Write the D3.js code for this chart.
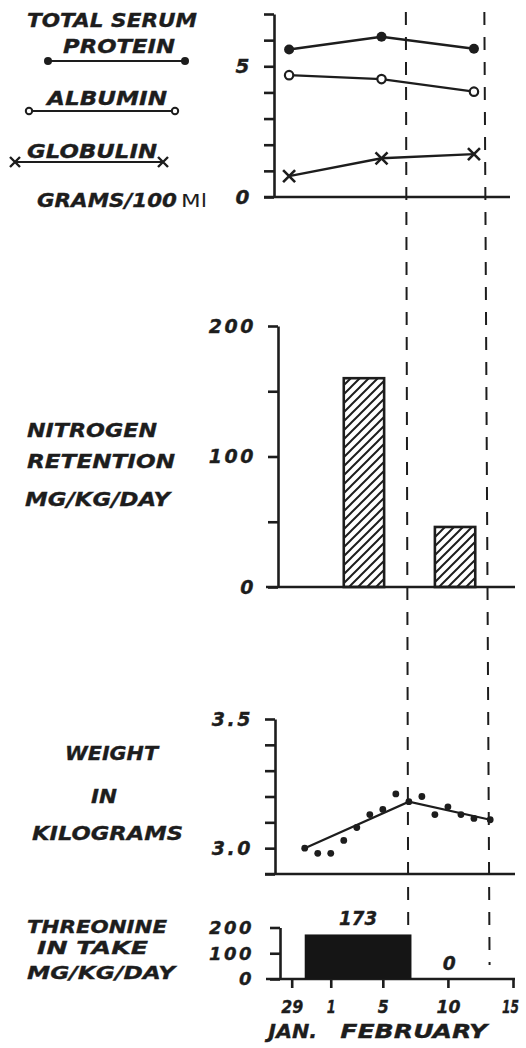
<!DOCTYPE html>
<html>
<head>
<meta charset="utf-8">
<script src="https://cdn.jsdelivr.net/npm/d3@7"></script>
<style>
  body { margin: 0; background: #fff; }
  text { font-family: "DejaVu Sans", sans-serif; font-weight: bold; font-style: italic; fill: #1d1d1d; stroke: #1d1d1d; stroke-width: 0.35; }
</style>
</head>
<body>
<svg id="chart" width="526" height="1048"></svg>
<script>
// days counted from Feb 1 (Jan 29 = -3)
let serumDays = [-3.2, 3.9, 11];
let totalProtein = [5.64, 6.13, 5.67];
let albumin = [4.66, 4.51, 4.03];
let globulin = [0.8, 1.48, 1.64];

let nitrogenBars = [
  {from: 1, to: 4.1, value: 160},
  {from: 8, to: 11.1, value: 46}
];

let weightDays = [-2, -1, 0, 1, 2, 3, 4, 5, 6, 7, 8, 9, 10, 11, 12.25];
let weights = [3.00, 2.98, 2.98, 3.03, 3.08, 3.13, 3.15, 3.21, 3.18, 3.20, 3.13, 3.16, 3.13, 3.115, 3.11];
let trendDays = [-2, 6, 12.25];
let trendWeights = [3.0, 3.18, 3.11];

let intake = [
  {from: -2, to: 6.2, value: 173},
  {from: 6.2, to: 12, value: 0}
];

let dayTicks = [-3, 0, 4, 9, 14];
let dayLabels = ["29", "1", "5", "10", "15"];
let months = [{name: "JAN.", day: -3}, {name: "FEBRUARY", day: 6.3}];

// dashed period markers, slight lean: [day at top, day at bottom]
let periodLines = [[5.77, 5.95], [11.8, 12.2]];

let ink = "#1d1d1d";
let svg = d3.select("#chart");

let x = d3.scaleLinear().domain([-3, 14]).range([291.7, 513]);

let yProt = d3.scaleLinear().domain([0, 7]).range([197, 14]);
let yNit = d3.scaleLinear().domain([0, 200]).range([587, 326]);
let yWt = d3.scaleLinear().domain([2.9, 3.5]).range([874, 719]);
let yThr = d3.scaleLinear().domain([0, 200]).range([979, 927.5]);

// drawn widths of the lettering under the time axis
let dayLabelW = [22, 9, 11, 24, 17];
let monthW = [49, 147];

let defs = svg.append("defs");
defs.append("pattern")
    .attr("id", "hatch")
    .attr("patternUnits", "userSpaceOnUse")
    .attr("width", 9).attr("height", 9)
  .append("path")
    .attr("d", "M-2,11 L11,-2 M-2,2 L2,-2 M7,11 L11,7")
    .attr("stroke", ink)
    .attr("stroke-width", 2);

function label(str, x0, w, y, size) {
    svg.append("text")
        .attr("x", x0).attr("y", y)
        .attr("font-size", size || 20)
        .attr("textLength", w)
        .attr("lengthAdjust", "spacingAndGlyphs")
        .text(str);
}

function yAxis(scale, ax, values, labeled, fmt, size, pad) {
    let g = svg.append("g")
        .attr("transform", "translate(" + ax + ",0)")
        .call(d3.axisLeft(scale)
            .tickValues(values)
            .tickSize(10)
            .tickSizeOuter(0)
            .tickPadding(pad)
            .tickFormat(d => labeled.indexOf(d) >= 0 ? fmt(d) : ""));
    g.select(".domain").attr("stroke", ink).attr("stroke-width", 2.6);
    g.selectAll(".tick line").attr("stroke", ink).attr("stroke-width", 2.6);
    g.selectAll(".tick text")
        .attr("font-size", size)
        .attr("letter-spacing", 2.5)
        .attr("fill", ink)
        .style("font-family", '"DejaVu Sans", sans-serif');
    return g;
}

function baseline(y, x1, x2) {
    svg.append("line")
        .attr("x1", x1).attr("x2", x2)
        .attr("y1", y).attr("y2", y)
        .attr("stroke", ink).attr("stroke-width", 2.6);
}

/* ---------- serum protein ---------- */
function addProtein() {
    yAxis(yProt, 274, [0, 1, 2, 3, 4, 5, 6, 7], [0, 5], d3.format("d"), 20, 12);
    baseline(yProt(0), 264, 510);

    let line = d3.line()
        .x((d, i) => x(serumDays[i]))
        .y(d => yProt(d));

    [totalProtein, albumin, globulin].forEach(s => {
        svg.append("path").datum(s)
            .attr("d", line)
            .attr("fill", "none").attr("stroke", ink).attr("stroke-width", 2.4);
    });

    svg.selectAll("circle.tp").data(totalProtein).enter()
        .append("circle").attr("class", "tp")
        .attr("cx", (d, i) => x(serumDays[i])).attr("cy", d => yProt(d))
        .attr("r", 5).attr("fill", ink);

    svg.selectAll("circle.alb").data(albumin).enter()
        .append("circle").attr("class", "alb")
        .attr("cx", (d, i) => x(serumDays[i])).attr("cy", d => yProt(d))
        .attr("r", 4.2).attr("fill", "#fff").attr("stroke", ink).attr("stroke-width", 2.2);

    svg.selectAll("path.glob").data(globulin).enter()
        .append("path").attr("class", "glob")
        .attr("transform", (d, i) => "translate(" + x(serumDays[i]) + "," + yProt(d) + ")")
        .attr("d", "M-6,-6 L6,6 M-6,6 L6,-6")
        .attr("stroke", ink).attr("stroke-width", 2.6);

    // legend
    label("TOTAL SERUM", 27, 170, 27);
    label("PROTEIN", 63, 112, 53);
    svg.append("line").attr("x1", 48).attr("x2", 185).attr("y1", 61).attr("y2", 61)
        .attr("stroke", ink).attr("stroke-width", 2.2);
    [48, 185].forEach(cx => svg.append("circle").attr("cx", cx).attr("cy", 61).attr("r", 4).attr("fill", ink));

    label("ALBUMIN", 47, 120, 105);
    svg.append("line").attr("x1", 29).attr("x2", 175).attr("y1", 111).attr("y2", 111)
        .attr("stroke", ink).attr("stroke-width", 2.2);
    [29, 175].forEach(cx => svg.append("circle").attr("cx", cx).attr("cy", 111).attr("r", 3.2)
        .attr("fill", "#fff").attr("stroke", ink).attr("stroke-width", 2));

    label("GLOBULIN", 27, 130, 158);
    svg.append("line").attr("x1", 15).attr("x2", 163).attr("y1", 162).attr("y2", 162)
        .attr("stroke", ink).attr("stroke-width", 2.2);
    [15, 163].forEach(cx => svg.append("path")
        .attr("transform", "translate(" + cx + ",162)")
        .attr("d", "M-5,-5 L5,5 M-5,5 L5,-5")
        .attr("stroke", ink).attr("stroke-width", 2.4));

    let units = svg.append("text").attr("x", 37).attr("y", 207).attr("font-size", 20);
    units.append("tspan").attr("textLength", 140).attr("lengthAdjust", "spacingAndGlyphs").text("GRAMS/100");
    units.append("tspan").attr("x", 181).attr("font-weight", "normal").attr("font-style", "normal")
        .attr("stroke-width", 0)
        .attr("font-size", 17).attr("textLength", 26).attr("lengthAdjust", "spacingAndGlyphs").text("Ml");
}

/* ---------- nitrogen retention ---------- */
function addNitrogen() {
    yAxis(yNit, 278, [0, 50, 100, 150, 200], [0, 100, 200], d3.format("d"), 19, 12);
    baseline(yNit(0), 266, 515);

    svg.selectAll("rect.nit").data(nitrogenBars).enter()
        .append("rect").attr("class", "nit")
        .attr("x", d => x(d.from))
        .attr("width", d => x(d.to) - x(d.from))
        .attr("y", d => yNit(d.value))
        .attr("height", d => yNit(0) - yNit(d.value))
        .attr("fill", "url(#hatch)")
        .attr("stroke", ink).attr("stroke-width", 2.6);

    label("NITROGEN", 27, 130, 437);
    label("RETENTION", 27, 148, 468);
    label("MG/KG/DAY", 25, 145, 506);
}

/* ---------- weight ---------- */
function addWeight() {
    yAxis(yWt, 275, [2.9, 3.0, 3.1, 3.2, 3.3, 3.4, 3.5], [3.0, 3.5], d3.format(".1f"), 19, 12);
    baseline(yWt(2.9), 265, 515);

    svg.append("path").datum(trendWeights)
        .attr("d", d3.line().x((d, i) => x(trendDays[i])).y(d => yWt(d)))
        .attr("fill", "none").attr("stroke", ink).attr("stroke-width", 2.2);

    svg.selectAll("circle.wt").data(weights).enter()
        .append("circle").attr("class", "wt")
        .attr("cx", (d, i) => x(weightDays[i])).attr("cy", d => yWt(d))
        .attr("r", 3.4).attr("fill", ink);

    label("WEIGHT", 65, 93, 760);
    label("IN", 91, 26, 803);
    label("KILOGRAMS", 32, 151, 840);
}

/* ---------- threonine intake ---------- */
function addIntake() {
    yAxis(yThr, 280, [0, 100, 200], [0, 100, 200], d3.format("d"), 18, 16);
    baseline(yThr(0), 266, 515);

    svg.selectAll("rect.thr").data(intake.filter(d => d.value > 0)).enter()
        .append("rect").attr("class", "thr")
        .attr("x", d => x(d.from))
        .attr("width", d => x(d.to) - x(d.from))
        .attr("y", d => yThr(d.value))
        .attr("height", d => yThr(0) - yThr(d.value))
        .attr("fill", "#151515");

    svg.selectAll("text.thrval").data(intake).enter()
        .append("text").attr("class", "thrval")
        .attr("x", d => x((d.from + d.to) / 2))
        .attr("y", d => d.value > 0 ? 925 : 970)
        .attr("text-anchor", "middle")
        .attr("font-size", 19)
        .text(d => d.value)
        .attr("textLength", d => d.value > 0 ? 38 : 13)
        .attr("lengthAdjust", "spacingAndGlyphs");

    let ax = svg.append("g")
        .attr("transform", "translate(0," + yThr(0) + ")")
        .call(d3.axisBottom(x).tickValues(dayTicks).tickSize(9)
            .tickFormat((d, i) => dayLabels[i]));
    ax.select(".domain").remove();
    ax.selectAll(".tick line").attr("stroke", ink).attr("stroke-width", 2.6);
    ax.selectAll(".tick text")
        .attr("y", 34).attr("dy", 0)
        .attr("dx", (d, i) => i == dayTicks.length - 1 ? -3 : 0)
        .attr("font-size", 18).attr("fill", ink)
        .attr("textLength", (d, i) => dayLabelW[i])
        .attr("lengthAdjust", "spacingAndGlyphs")
        .style("font-family", '"DejaVu Sans", sans-serif');

    svg.selectAll("text.month").data(months).enter()
        .append("text").attr("class", "month")
        .attr("x", d => x(d.day) + 1)
        .attr("y", 1038)
        .attr("text-anchor", "middle")
        .attr("font-size", 20)
        .attr("textLength", (d, i) => monthW[i])
        .attr("lengthAdjust", "spacingAndGlyphs")
        .text(d => d.name);

    label("THREONINE", 27, 140, 933, 18);
    label("IN TAKE", 37, 111, 954, 18);
    label("MG/KG/DAY", 27, 148, 979, 18);
}

function addPeriods() {
    let ends = [929, 965];
    svg.selectAll("line.period").data(periodLines).enter()
        .append("line").attr("class", "period")
        .attr("x1", d => x(d[0])).attr("y1", 12)
        .attr("x2", d => x(d[1])).attr("y2", (d, i) => ends[i])
        .attr("stroke", ink).attr("stroke-width", 2)
        .attr("stroke-dasharray", "13,12");
}

addPeriods();
addProtein();
addNitrogen();
addWeight();
addIntake();
</script>
</body>
</html>
